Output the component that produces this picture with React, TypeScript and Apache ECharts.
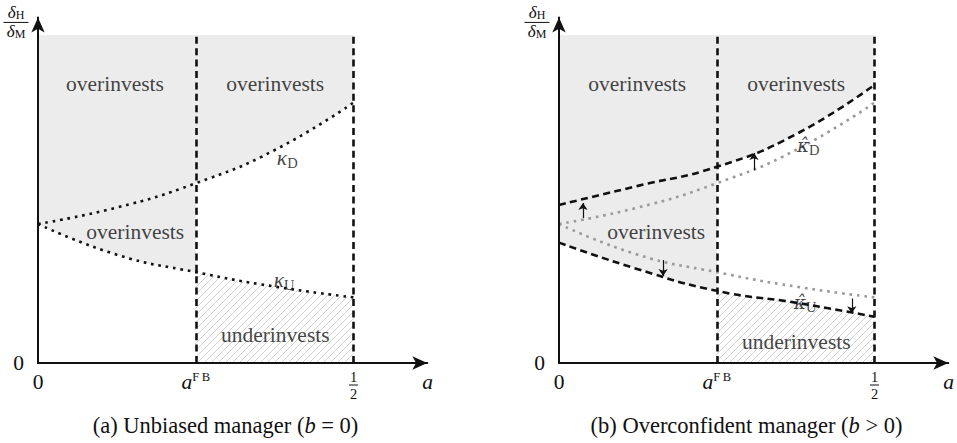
import React, { useEffect, useRef } from 'react';
import * as echarts from 'echarts';

// ---------------- data ----------------
const aPoints = [0, 0.125, 0.25, 0.375, 0.5];
const kappaD = [0.424, 0.474, 0.548, 0.649, 0.794];
const kappaU = [0.424, 0.33, 0.277, 0.233, 0.2];
const kappaDHat = [0.482, 0.54, 0.598, 0.697, 0.848];
const kappaUHat = [0.367, 0.286, 0.22, 0.184, 0.141];

const aFB = 0.25;
const aHalf = 0.5;
const regionTop = 1;

const xTickValues = [0, aFB, aHalf];
const xTickLabels = ['{n|0}', '{it|a}{sup|F\u2009B}', '{f|1}\n{bar| }\n{f|2}'];
const yTickValues = [0];
const yTickLabels = ['{n|0}'];
const xAxisName = 'a';
const yAxisName = '{d|δ}{s|H}\n{bar| }\n{d|δ}{s|M}';

const shiftArrowA = [0.038, 0.309, 0.165, 0.464];
const shiftArrowFrom = [0.442, 0.588, 0.314, 0.197];
const shiftArrowTo = [0.488, 0.64, 0.265, 0.152];

const regionTexts = ['overinvests', 'overinvests', 'overinvests', 'underinvests'];
const regionA = [
  [0.122, 0.376, 0.154, 0.376],
  [0.124, 0.376, 0.154, 0.376],
];
const regionY = [
  [0.851, 0.851, 0.399, 0.085],
  [0.851, 0.851, 0.399, 0.064],
];

const curveTexts = [
  ['{k|κ}{s|D}', '{k|κ}{s|U}'],
  ['{kh|κ\u0302}{s|D}', '{kh|κ\u0302}{s|U}'],
];
const curveA = [
  [0.395, 0.39],
  [0.395, 0.39],
];
const curveY = [
  [0.625, 0.253],
  [0.662, 0.183],
];

const captions = ['(a) Unbiased manager ({i|b} = 0)', '(b) Overconfident manager ({i|b} > 0)'];

// ---------------- layout / style ----------------
const W = 957;
const H = 443;
const ORIGIN_Y = 363;
const PX = 631;
const PY = 328;
const ORIGIN_X = [38, 559];
const X_MAX = 0.617;
const Y_MAX = 1.053;
const CAPTION_X = [225.5, 746.5];
const CAPTION_Y = 425;

const FONT = '"Liberation Serif", "Times New Roman", serif';
const GREEK_HAT_FONT = '"DejaVu Serif", "Liberation Serif", serif';
const FS = 21.5;
const CAPTION_FS = 22.5;
const INK = '#111';
const FILL = '#ececec';
const GREY_CURVE = '#9a9a9a';

const txt = (extra: any = {}) => ({ fontFamily: FONT, fontSize: FS, color: INK, ...extra });

function rect(p: number, x1: number, x2: number, y1: number, y2: number) {
  return {
    left: ORIGIN_X[p] + x1 * PX,
    top: ORIGIN_Y - y2 * PY,
    width: (x2 - x1) * PX,
    height: (y2 - y1) * PY,
    containLabel: false,
    outerBoundsMode: 'none',
  };
}

function hatchPattern() {
  const s = 7;
  const c = document.createElement('canvas');
  c.width = s;
  c.height = s;
  const g = c.getContext('2d');
  if (g) {
    g.strokeStyle = '#cdcdcd';
    g.lineWidth = 0.9;
    g.beginPath();
    g.moveTo(-1, s + 1);
    g.lineTo(s + 1, -1);
    g.moveTo(-1, 1);
    g.lineTo(1, -1);
    g.moveTo(s - 1, s + 1);
    g.lineTo(s + 1, s - 1);
    g.stroke();
  }
  return { image: c, repeat: 'repeat', imageWidth: s, imageHeight: s };
}

const pts = (ys: number[]) => aPoints.map((a, i) => [a, ys[i]]);

function buildOption() {
  const hatch = hatchPattern();
  const grid: any[] = [];
  const xAxis: any[] = [];
  const yAxis: any[] = [];
  const series: any[] = [];

  const tickRich = {
    n: txt({ lineHeight: 24 }),
    it: txt({ fontStyle: 'italic', lineHeight: 24 }),
    sup: txt({ fontSize: 12.5, lineHeight: 14, verticalAlign: 'top' }),
    f: txt({ fontSize: 14.5, lineHeight: 13 }),
    bar: { width: 9, height: 1, lineHeight: 4, backgroundColor: INK },
  };
  const nameRich = {
    d: txt({ fontSize: 17, fontStyle: 'italic', lineHeight: 16 }),
    s: txt({ fontSize: 12, lineHeight: 11, verticalAlign: 'bottom' }),
    bar: { width: 25, height: 1, lineHeight: 3, backgroundColor: INK },
  };
  const curveRich = {
    k: txt({ fontStyle: 'italic', lineHeight: 24 }),
    kh: txt({ fontFamily: GREEK_HAT_FONT, fontSize: 18.5, fontStyle: 'italic', lineHeight: 24 }),
    s: txt({ fontSize: 14.5, lineHeight: 12, verticalAlign: 'bottom' }),
  };

  for (let p = 0; p < 2; p++) {
    const g0 = grid.length;
    grid.push(rect(p, 0, X_MAX, 0, Y_MAX));
    grid.push(rect(p, 0, aHalf, 0, regionTop));
    grid.push(rect(p, 0, aFB, 0, regionTop));
    grid.push(rect(p, aFB, aHalf, 0, regionTop));

    const axisLine = {
      show: true,
      onZero: false,
      symbol: ['none', 'arrow'],
      symbolSize: [10, 15],
      lineStyle: { color: INK, width: 2 },
    };
    xAxis.push({
      type: 'value',
      gridIndex: g0,
      min: 0,
      max: X_MAX,
      z: 10,
      axisLine,
      axisTick: { show: false },
      splitLine: { show: false },
      axisLabel: {
        customValues: xTickValues,
        margin: 7,
        formatter: (v: number) => {
          const i = xTickValues.findIndex((t) => Math.abs(t - v) < 1e-6);
          return i >= 0 ? xTickLabels[i] : '';
        },
        rich: tickRich,
      },
      name: xAxisName,
      nameLocation: 'end',
      nameGap: -5,
      nameTextStyle: txt({
        fontStyle: 'italic',
        align: 'left',
        verticalAlign: 'top',
        lineHeight: 24,
        padding: [7, 0, 0, 0],
      }),
    });
    yAxis.push({
      type: 'value',
      gridIndex: g0,
      min: 0,
      max: Y_MAX,
      z: 10,
      axisLine,
      axisTick: { show: false },
      splitLine: { show: false },
      axisLabel: {
        customValues: yTickValues,
        margin: 14,
        formatter: (v: number) => {
          const i = yTickValues.findIndex((t) => Math.abs(t - v) < 1e-6);
          return i >= 0 ? yTickLabels[i] : '';
        },
        rich: tickRich,
      },
      name: yAxisName,
      nameLocation: 'end',
      nameGap: -4.8,
      nameTextStyle: {
        align: 'center',
        verticalAlign: 'middle',
        padding: [0, 44, 0, 0],
        rich: nameRich,
      },
    });
    const hidden = [
      [0, aHalf],
      [0, aFB],
      [aFB, aHalf],
    ];
    hidden.forEach(([lo, hi], k) => {
      xAxis.push({ type: 'value', gridIndex: g0 + 1 + k, min: lo, max: hi, show: false });
      yAxis.push({ type: 'value', gridIndex: g0 + 1 + k, min: 0, max: regionTop, show: false });
    });

    const upper = p === 0 ? kappaD : kappaDHat;
    const lower = p === 0 ? kappaU : kappaUHat;
    const base = { smooth: true, symbol: 'none', silent: true, animation: false };

    series.push({
      ...base,
      type: 'line',
      xAxisIndex: g0 + 1,
      yAxisIndex: g0 + 1,
      data: pts(upper),
      lineStyle: { width: 0 },
      areaStyle: { color: FILL, opacity: 1, origin: 'end' },
      z: 1,
    });
    series.push({
      ...base,
      type: 'line',
      xAxisIndex: g0 + 2,
      yAxisIndex: g0 + 2,
      data: pts(lower),
      lineStyle: { width: 0 },
      areaStyle: { color: FILL, opacity: 1, origin: 'end' },
      z: 1,
    });
    series.push({
      ...base,
      type: 'line',
      xAxisIndex: g0 + 3,
      yAxisIndex: g0 + 3,
      data: pts(lower),
      lineStyle: { width: 0 },
      areaStyle: { color: hatch, opacity: 1, origin: 'start' },
      z: 1,
    });

    const dotted = [2.7, 4.8];
    const dashed = [7, 4.4];
    if (p === 1) {
      [kappaD, kappaU].forEach((ys) =>
        series.push({
          ...base,
          type: 'line',
          xAxisIndex: g0,
          yAxisIndex: g0,
          data: pts(ys),
          lineStyle: { color: GREY_CURVE, width: 2.6, type: dotted },
          z: 3,
        })
      );
    }
    [upper, lower].forEach((ys) =>
      series.push({
        ...base,
        type: 'line',
        xAxisIndex: g0,
        yAxisIndex: g0,
        data: pts(ys),
        lineStyle: { color: INK, width: 2.6, type: p === 0 ? dotted : dashed },
        z: 4,
      })
    );

    series.push({
      type: 'lines',
      coordinateSystem: 'cartesian2d',
      xAxisIndex: g0,
      yAxisIndex: g0,
      silent: true,
      data: [aFB, aHalf].map((a) => ({ coords: [[a, 0], [a, regionTop]] })),
      lineStyle: { color: INK, width: 2.6, type: dashed, opacity: 1, curveness: 0 },
      z: 5,
    });

    if (p === 1) {
      series.push({
        type: 'lines',
        coordinateSystem: 'cartesian2d',
        xAxisIndex: g0,
        yAxisIndex: g0,
        silent: true,
        symbol: ['none', 'arrow'],
        symbolSize: [6, 7],
        data: shiftArrowA.map((a, i) => ({
          coords: [
            [a, shiftArrowFrom[i]],
            [a, shiftArrowTo[i]],
          ],
        })),
        lineStyle: { color: INK, width: 1.2, opacity: 1, curveness: 0 },
        z: 6,
      });
    }

    series.push({
      type: 'scatter',
      xAxisIndex: g0,
      yAxisIndex: g0,
      silent: true,
      symbolSize: 1,
      itemStyle: { color: 'rgba(0,0,0,0)' },
      data: regionTexts.map((t, i) => ({ name: t, value: [regionA[p][i], regionY[p][i]] })),
      label: {
        show: true,
        position: 'inside',
        formatter: (d: any) => d.name,
        ...txt(),
      },
      z: 7,
    });
    series.push({
      type: 'scatter',
      xAxisIndex: g0,
      yAxisIndex: g0,
      silent: true,
      symbolSize: 1,
      itemStyle: { color: 'rgba(0,0,0,0)' },
      data: curveTexts[p].map((t, i) => ({ name: t, value: [curveA[p][i], curveY[p][i]] })),
      label: {
        show: true,
        position: 'inside',
        formatter: (d: any) => d.name,
        rich: curveRich,
        ...txt(),
      },
      z: 7,
    });
  }

  return {
    animation: false,
    backgroundColor: '#fff',
    grid,
    xAxis,
    yAxis,
    series,
    graphic: captions.map((t, p) => ({
      type: 'text',
      x: CAPTION_X[p],
      y: CAPTION_Y,
      silent: true,
      style: {
        text: t,
        align: 'center',
        verticalAlign: 'middle',
        fontFamily: FONT,
        fontSize: CAPTION_FS,
        fill: INK,
        rich: {
          i: { fontFamily: FONT, fontSize: CAPTION_FS, fontStyle: 'italic', fill: INK },
        },
      },
    })),
  };
}

export default function App() {
  const ref = useRef<HTMLDivElement>(null);
  useEffect(() => {
    if (!ref.current) return;
    const chart = echarts.init(ref.current, null, { renderer: 'svg', width: W, height: H });
    chart.setOption(buildOption() as any);
    return () => chart.dispose();
  }, []);
  return (
    <div
      ref={ref}
      style={{ position: 'absolute', left: 0, top: 0, width: W, height: H, background: '#fff' }}
    />
  );
}
